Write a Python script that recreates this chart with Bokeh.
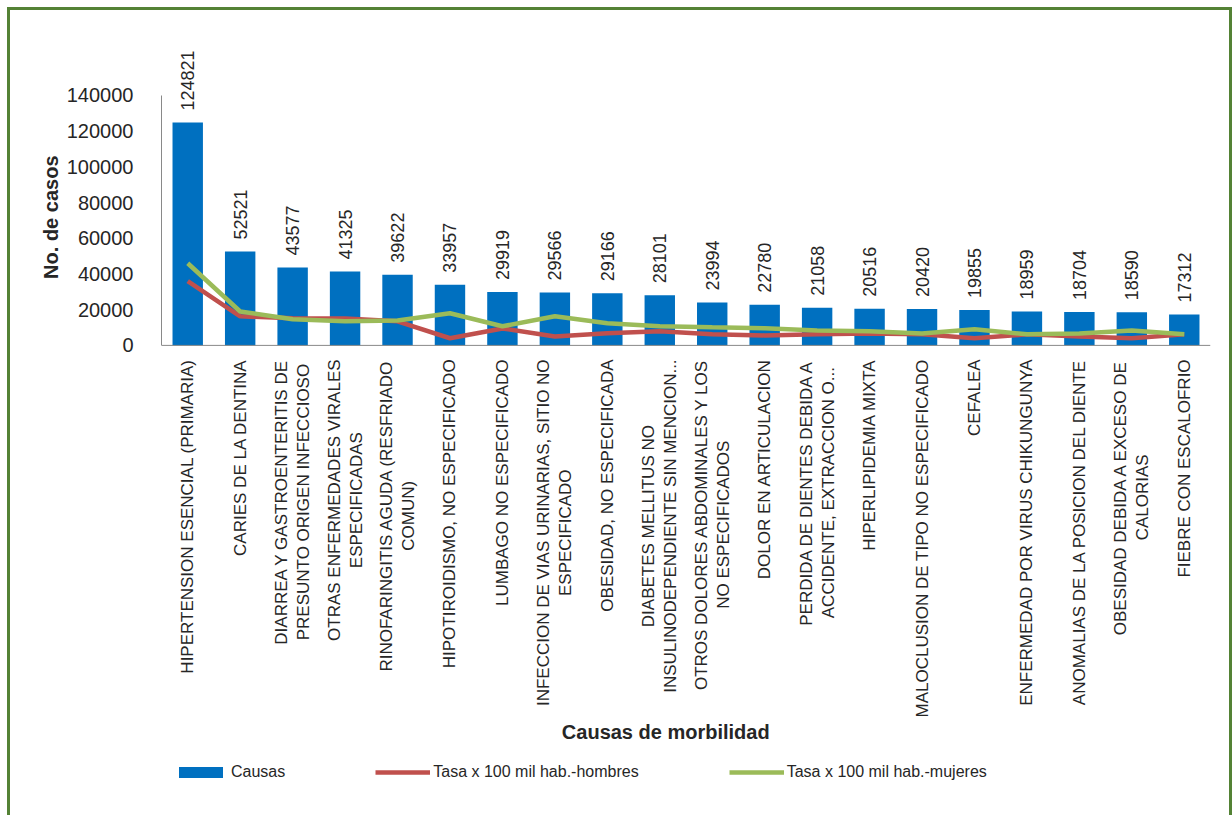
import math
from bokeh.plotting import figure
from bokeh.models import (ColumnDataSource, FactorRange, Range1d, LabelSet, Legend, LegendItem,
                          FixedTicker, NumeralTickFormatter, Span, Title)
from bokeh.core.properties import value
from bokeh.transform import dodge
from bokeh.embed import file_html
from bokeh.resources import INLINE

categories = [
    "HIPERTENSION ESENCIAL (PRIMARIA)",
    "CARIES DE LA DENTINA",
    "DIARREA Y GASTROENTERITIS DE PRESUNTO ORIGEN INFECCIOSO",
    "OTRAS ENFERMEDADES VIRALES ESPECIFICADAS",
    "RINOFARINGITIS AGUDA (RESFRIADO COMUN)",
    "HIPOTIROIDISMO, NO ESPECIFICADO",
    "LUMBAGO NO ESPECIFICADO",
    "INFECCION DE VIAS URINARIAS, SITIO NO ESPECIFICADO",
    "OBESIDAD, NO ESPECIFICADA",
    "DIABETES MELLITUS NO INSULINODEPENDIENTE SIN MENCION...",
    "OTROS DOLORES ABDOMINALES Y LOS NO ESPECIFICADOS",
    "DOLOR EN ARTICULACION",
    "PERDIDA DE DIENTES DEBIDA A ACCIDENTE, EXTRACCION O...",
    "HIPERLIPIDEMIA MIXTA",
    "MALOCLUSION DE TIPO NO ESPECIFICADO",
    "CEFALEA",
    "ENFERMEDAD POR VIRUS CHIKUNGUNYA",
    "ANOMALIAS DE LA POSICION DEL DIENTE",
    "OBESIDAD DEBIDA A EXCESO DE CALORIAS",
    "FIEBRE CON ESCALOFRIO",
]

# category tick labels as shown (first / second line of each wrapped label)
label_line1 = [
    "HIPERTENSION ESENCIAL (PRIMARIA)",
    "CARIES DE LA DENTINA",
    "DIARREA Y GASTROENTERITIS DE",
    "OTRAS ENFERMEDADES VIRALES",
    "RINOFARINGITIS AGUDA (RESFRIADO",
    "HIPOTIROIDISMO, NO ESPECIFICADO",
    "LUMBAGO NO ESPECIFICADO",
    "INFECCION DE VIAS URINARIAS, SITIO NO",
    "OBESIDAD, NO ESPECIFICADA",
    "DIABETES MELLITUS NO",
    "OTROS DOLORES ABDOMINALES Y LOS",
    "DOLOR EN ARTICULACION",
    "PERDIDA DE DIENTES DEBIDA A",
    "HIPERLIPIDEMIA MIXTA",
    "MALOCLUSION DE TIPO NO ESPECIFICADO",
    "CEFALEA",
    "ENFERMEDAD POR VIRUS CHIKUNGUNYA",
    "ANOMALIAS DE LA POSICION DEL DIENTE",
    "OBESIDAD DEBIDA A EXCESO DE",
    "FIEBRE CON ESCALOFRIO",
]
label_line2 = [
    "", "", "PRESUNTO ORIGEN INFECCIOSO", "ESPECIFICADAS", "COMUN)", "", "",
    "ESPECIFICADO", "", "INSULINODEPENDIENTE SIN MENCION...", "NO ESPECIFICADOS", "",
    "ACCIDENTE, EXTRACCION O...", "", "", "", "", "", "CALORIAS", "",
]

causas = [124821, 52521, 43577, 41325, 39622, 33957, 29919, 29566, 29166, 28101,
          23994, 22780, 21058, 20516, 20420, 19855, 18959, 18704, 18590, 17312]

tasa_hombres = [36000, 16300, 15200, 15000, 13500, 4000, 9500, 5000, 6800, 7900,
                6200, 5600, 6200, 6700, 6200, 4000, 6200, 5000, 4000, 6200]

tasa_mujeres = [46000, 19000, 14600, 13500, 14000, 18000, 10700, 16300, 12400, 10700,
                10100, 9600, 8400, 7900, 6700, 9000, 6200, 6700, 8400, 6200]

y_ticks = [0, 20000, 40000, 60000, 80000, 100000, 120000, 140000]

x_title = "Causas de morbilidad"
y_title = "No. de casos"
legend_labels = ["Causas", "Tasa x 100 mil hab.-hombres", "Tasa x 100 mil hab.-mujeres"]

FONT = "Liberation Sans"
CAT_SIZE = 17
TXT = "#262626"
AXIS = "#898989"
LABEL_GAP = 14

# approximate advance widths (Arial / Liberation Sans metrics, 1/1000 em), used to centre the
# two lines of a wrapped category name on each other, with the block starting at the axis
_W = dict(A=667, B=667, C=722, D=722, E=667, F=611, G=778, H=722, I=278, J=500, K=667, L=556,
          M=833, N=722, O=778, P=667, Q=778, R=722, S=667, T=611, U=722, V=667, W=944, X=667,
          Y=667, Z=611)
_W.update({" ": 278, "(": 333, ")": 333, ",": 278, ".": 278, "-": 333})


def text_width(s, size):
    return sum(_W.get(ch, 600) for ch in s) * size / 1000.0


source = ColumnDataSource(dict(
    cat=categories,
    causas=causas,
    hombres=tasa_hombres,
    mujeres=tasa_mujeres,
    lbl=[str(v) for v in causas],
))

single = [i for i, s in enumerate(label_line2) if not s]
double = [i for i, s in enumerate(label_line2) if s]
src_single = ColumnDataSource(dict(
    cat=[categories[i] for i in single], t=[label_line1[i] for i in single],
    zero=[0] * len(single)))
src_double = ColumnDataSource(dict(
    cat=[categories[i] for i in double], t1=[label_line1[i] for i in double],
    t2=[label_line2[i] for i in double], zero=[0] * len(double),
    off=[-(LABEL_GAP + max(text_width(label_line1[i], CAT_SIZE),
                           text_width(label_line2[i], CAT_SIZE)) / 2) for i in double]))
src_xtitle = ColumnDataSource(dict(cat=[categories[9]], t=[x_title], zero=[0]))

# the frame reaches well below zero so that the category names, the axis title
# and the legend (all drawn inside the frame) are not clipped
p = figure(
    x_range=FactorRange(*categories),
    y_range=Range1d(-256000, 173000),
    width=1225, height=808,
    output_backend="svg", toolbar_location=None,
    x_axis_location=None,
    min_border_left=151, min_border_top=26, min_border_right=25, min_border_bottom=16,
)
p.styles = {"border-top": "3px solid #548235", "border-left": "3px solid #548235",
            "border-right": "3px solid #548235", "margin-left": "7px", "margin-top": "7px"}
p.outline_line_color = None
p.xgrid.grid_line_color = None
p.ygrid.grid_line_color = None

bars = p.vbar(x="cat", top="causas", width=0.58, source=source,
              fill_color="#0070C0", line_color=None)
p.add_layout(Span(location=0, dimension="width", line_color=AXIS, line_width=1))
l_h = p.line(x="cat", y="hombres", source=source, line_color="#C0504D", line_width=4.5)
l_m = p.line(x="cat", y="mujeres", source=source, line_color="#9BBB59", line_width=4.5)

p.add_layout(LabelSet(x="cat", y="causas", text="lbl", source=source, angle=math.pi / 2,
                      text_align="left", text_baseline="middle", y_offset=12,
                      text_font=value(FONT), text_font_size="18px", text_color=TXT))

cat_style = dict(angle=math.pi / 2, text_baseline="middle",
                 text_font=value(FONT), text_font_size=f"{CAT_SIZE}px", text_color=TXT)
p.add_layout(LabelSet(x="cat", y="zero", text="t", source=src_single, text_align="right",
                      y_offset=-LABEL_GAP, **cat_style))
p.add_layout(LabelSet(x=dodge("cat", -0.21, range=p.x_range), y="zero", text="t1",
                      source=src_double, text_align="center", y_offset="off", **cat_style))
p.add_layout(LabelSet(x=dodge("cat", 0.21, range=p.x_range), y="zero", text="t2",
                      source=src_double, text_align="center", y_offset="off", **cat_style))

# x axis title
p.add_layout(LabelSet(x="cat", y="zero", text="t", source=src_xtitle, x_offset=6, y_offset=-376,
                      text_align="center", text_baseline="top",
                      text_font=value(FONT), text_font_style="bold", text_font_size="20px",
                      text_color=TXT))

# y axis (only 0..140000 is shown)
p.yaxis.bounds = (0, 140000)
p.yaxis.ticker = FixedTicker(ticks=y_ticks)
p.yaxis.formatter = NumeralTickFormatter(format="0")
p.yaxis.major_label_text_font = FONT
p.yaxis.major_label_text_font_size = "20px"
p.yaxis.major_label_text_color = TXT
p.yaxis.major_label_standoff = 22
p.yaxis.major_tick_line_color = None
p.yaxis.minor_tick_line_color = None
p.yaxis.axis_line_color = AXIS

p.add_layout(Title(text=y_title, align="right", offset=119, standoff=4,
                   text_font=FONT, text_font_style="bold", text_font_size="20px",
                   text_color=TXT), "left")

legend = Legend(items=[
    LegendItem(label=legend_labels[0], renderers=[bars]),
    LegendItem(label=legend_labels[1], renderers=[l_h]),
    LegendItem(label=legend_labels[2], renderers=[l_m]),
], orientation="horizontal", location=(12, 21),
   glyph_width=55, glyph_height=14, label_standoff=3, spacing=90,
   label_text_font=FONT, label_text_font_size="16px", label_text_color=TXT,
   border_line_color=None, background_fill_alpha=0, padding=0, margin=0)
p.add_layout(legend, "center")

open("out.html", "w").write(file_html(p, INLINE))
